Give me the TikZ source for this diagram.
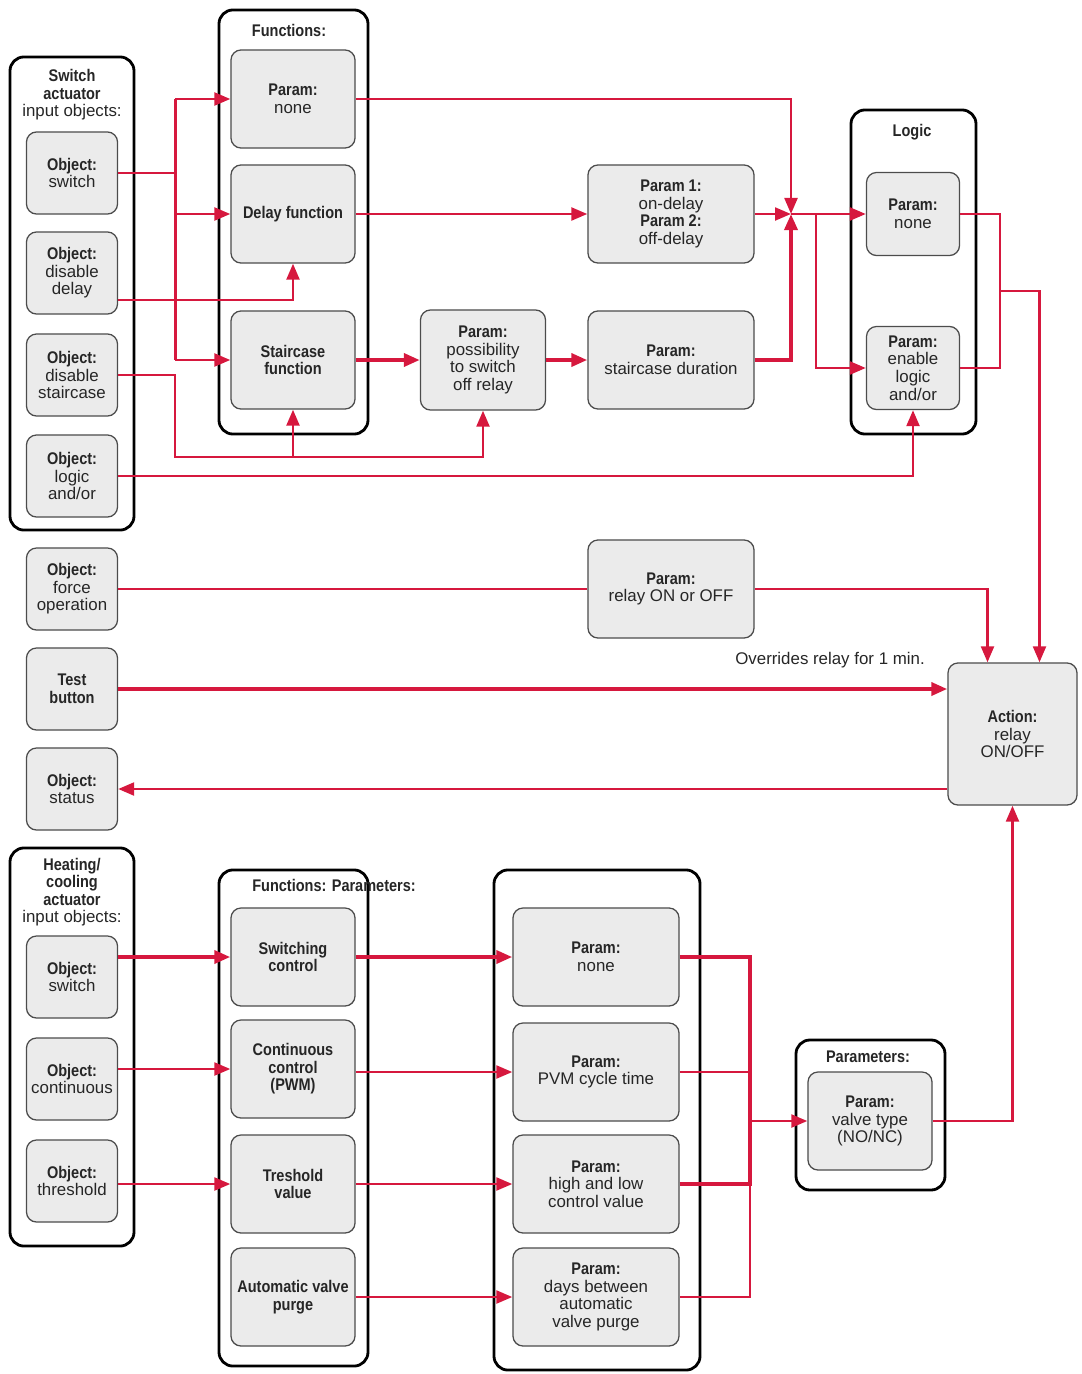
\documentclass[tikz,border=0pt]{standalone}
\usepackage{fontspec}
\setmainfont{Liberation Sans}[BoldFeatures={FakeStretch=0.86}]
\usetikzlibrary{arrows.meta,calc}
\definecolor{kred}{RGB}{214,24,62}
\newcommand{\boxfont}{\fontsize{12}{12.5}\selectfont}
\begin{document}
\begin{tikzpicture}[
  x=0.025cm, y=-0.025cm,
  grp/.style={draw=black, line width=2pt, rounded corners=0.35cm, inner sep=0},
  obj/.style={draw=black!70, line width=0.9pt, fill=gray!16, rounded corners=0.25cm, align=center, inner sep=1pt, text=black!85, font=\boxfont},
  small/.style={obj, minimum width=2.275cm, minimum height=2.05cm},
  fun/.style={obj, minimum width=3.1cm, minimum height=2.45cm},
  wide/.style={obj, minimum width=4.15cm, minimum height=2.45cm},
  ttl/.style={align=center, inner sep=0, text=black!85, font=\boxfont},
  ln/.style={draw=kred, line width=2pt},
  arr/.style={ln, -{Triangle[length=0.4cm,width=0.32cm]}},
  fat/.style={line width=2.8pt}
]
\useasboundingbox (0,0) rectangle (1081,1374);

% switch actuator
\node[grp, minimum width=3.1cm, minimum height=11.825cm] (swgrp) at (72,293.5) {};
\node[ttl] (swttl) at (72,95) {\textbf{Switch}\\\textbf{actuator}\\input objects:};
\node[small] (osw) at (72,173) {\textbf{Object:}\\switch};
\node[small] (odd) at (72,273) {\textbf{Object:}\\disable\\delay};
\node[small] (ods) at (72,375) {\textbf{Object:}\\disable\\staircase};
\node[small] (olog) at (72,476) {\textbf{Object:}\\logic\\and/or};

\node[grp, minimum width=3.725cm, minimum height=10.6cm] (fungrp) at (293.5,222) {};
\node[ttl] (funttl) at (289,30) {\textbf{Functions:}};
\node[fun] (fnone) at (293,99) {\textbf{Param:}\\none};
\node[fun] (fdelay) at (293,214) {\textbf{Delay function}};
\node[fun] (fstair) at (293,360) {\textbf{Staircase}\\\textbf{function}};

\node[obj, minimum width=3.125cm, minimum height=2.5cm] (fposs) at (483,360) {\textbf{Param:}\\possibility\\to switch\\off relay};
\node[wide] (pdelay) at (671,214) {\textbf{Param 1:}\\on-delay\\\textbf{Param 2:}\\off-delay};
\node[wide] (pstair) at (671,360) {\textbf{Param:}\\staircase duration};
\coordinate (jn) at (791,214);

\node[grp, minimum width=3.125cm, minimum height=8.1cm] (loggrp) at (913.5,272) {};
\node[ttl] (logttl) at (912,132) {\textbf{Logic}};
\node[obj, minimum width=2.325cm, minimum height=2.075cm] (lnone) at (913,214) {\textbf{Param:}\\none};
\node[obj, minimum width=2.325cm, minimum height=2.075cm] (lenable) at (913,368) {\textbf{Param:}\\enable\\logic\\and/or};

% relay
\node[small] (oforce) at (72,589) {\textbf{Object:}\\force\\operation};
\node[wide] (prelay) at (671,589) {\textbf{Param:}\\relay ON or OFF};
\node[small] (otest) at (72,689) {\textbf{Test}\\\textbf{button}};
\node[small] (ostat) at (72,789) {\textbf{Object:}\\status};
\node[obj, minimum width=3.225cm, minimum height=3.55cm] (act) at (1012.5,734) {\textbf{Action:}\\relay\\ON/OFF};
\node[ttl, anchor=east] (ovr) at (925,660) {Overrides relay for 1 min.};

% heating/cooling actuator
\node[grp, minimum width=3.1cm, minimum height=9.95cm] (htgrp) at (72,1047) {};
\node[ttl] (htttl) at (72,892) {\textbf{Heating/}\\\textbf{cooling}\\\textbf{actuator}\\input objects:};
\node[small] (hsw) at (72,977) {\textbf{Object:}\\switch};
\node[small] (hcont) at (72,1079) {\textbf{Object:}\\continuous};
\node[small] (hthr) at (72,1181) {\textbf{Object:}\\threshold};

\node[grp, minimum width=3.725cm, minimum height=12.4cm] (hfgrp) at (293.5,1118) {};
\node[ttl, anchor=west] (hfttl) at (252,885) {\textbf{Functions: Parameters:}};
\node[fun] (hfsw) at (293,957) {\textbf{Switching}\\\textbf{control}};
\node[fun] (hfcont) at (293,1069) {\textbf{Continuous}\\\textbf{control}\\\textbf{(PWM)}};
\node[fun] (hfthr) at (293,1184) {\textbf{Treshold}\\\textbf{value}};
\node[fun] (hfpurge) at (293,1297) {\textbf{Automatic valve}\\\textbf{purge}};

\node[grp, minimum width=5.15cm, minimum height=12.5cm] (hpgrp) at (597,1120) {};
\node[wide] (hpnone) at (596,957) {\textbf{Param:}\\none};
\node[wide] (hpcyc) at (596,1072) {\textbf{Param:}\\PVM cycle time};
\node[wide] (hphl) at (596,1184) {\textbf{Param:}\\high and low\\control value};
\node[wide] (hpdays) at (596,1297) {\textbf{Param:}\\days between\\automatic\\valve purge};

\node[grp, minimum width=3.725cm, minimum height=3.75cm] (valgrp) at (870.5,1115) {};
\node[ttl] (valttl) at (868,1057) {\textbf{Parameters:}};
\node[fun] (valve) at (870,1121) {\textbf{Param:}\\valve type\\(NO/NC)};

% connectors, top part
\draw[ln] (osw.east) -- ++(57,0) coordinate (swj);
\draw[ln] (swj |- fnone.west) -- (swj |- fstair.west);
\draw[arr] (swj |- fnone.west) -- (fnone.west);
\draw[arr] (swj |- fdelay.west) -- (fdelay.west);
\draw[arr] (swj |- fstair.west) -- (fstair.west);
\draw[arr] ($(odd.east)+(0,27)$) -| (fdelay.south);
\coordinate (stj) at (175,457);
\draw[arr] (ods.east) -| (stj) -| (fposs.south);
\draw[arr] (fstair.south |- stj) -- (fstair.south);
\draw[arr] (olog.east) -| (lenable.south);

\draw[arr] (fnone.east) -| (jn);
\draw[arr] (fdelay.east) -- (pdelay.west);
\draw[arr] (pdelay.east) -- (jn);
\draw[arr, fat] (fstair.east) -- (fposs.west);
\draw[arr, fat] (fposs.east) -- (pstair.west);
\draw[arr, fat] (pstair.east) -| (jn);
\draw[ln] (jn) -- ++(25,0) coordinate (lj);
\draw[arr] (lj) -- (lnone.west);
\draw[arr] (lj) |- (lenable.west);

\coordinate (oj) at (1000,291);
\draw[ln] (lnone.east) -| (oj);
\draw[ln] (lenable.east) -| (oj);
\draw[arr] (oj) -| ($(act.north)+(27,0)$);

% connectors, relay
\draw[ln] (oforce.east) -- (prelay.west);
\draw[arr] (prelay.east) -| ($(act.north)+(-25,0)$);
\draw[arr, fat] (otest.east) -- (act.west |- otest.east);
\draw[arr] (act.west |- ostat.east) -- (ostat.east);

% connectors, heating
\draw[arr, fat] (hsw.east |- hfsw.west) -- (hfsw.west);
\draw[arr] (hcont.east |- hfcont.west) -- (hfcont.west);
\draw[arr] (hthr.east |- hfthr.west) -- (hfthr.west);
\draw[arr, fat] (hfsw.east) -- (hpnone.west);
\draw[arr] (hfcont.east |- hpcyc.west) -- (hpcyc.west);
\draw[arr] (hfthr.east) -- (hphl.west);
\draw[arr] (hfpurge.east) -- (hpdays.west);
\coordinate (bus) at (750,1121);
\draw[ln, fat] (hpnone.east) -| (bus);
\draw[ln] (bus) |- (hpdays.east);
\draw[ln] (hpcyc.east) -| (bus);
\draw[ln, fat] (hphl.east) -| (bus);
\draw[arr] (bus) -- (valve.west);
\draw[arr] (valve.east) -| (act.south);
\end{tikzpicture}
\end{document}
